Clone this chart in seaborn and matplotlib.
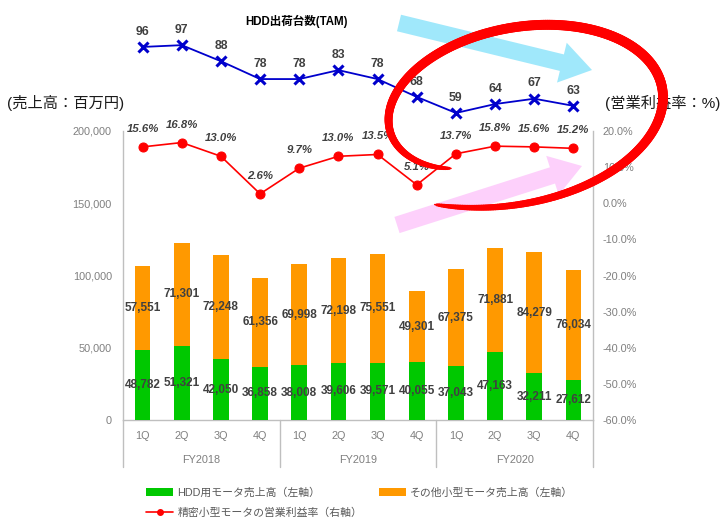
import numpy as np
import pandas as pd
import matplotlib
matplotlib.use("Agg")
import matplotlib.pyplot as plt
import seaborn as sns
from matplotlib.patches import FancyArrow, Patch
from matplotlib.lines import Line2D
from matplotlib.collections import LineCollection
from matplotlib.ticker import FuncFormatter, FixedLocator

# ---------------- data ----------------
fiscal_years = ["FY2018", "FY2019", "FY2020"]
quarters = ["1Q", "2Q", "3Q", "4Q"]
hdd_motor_sales = [48782, 51321, 42050, 36858, 38008, 39606, 39571, 40055, 37043, 47163, 32211, 27612]
other_motor_sales = [57551, 71301, 72248, 61356, 69998, 72198, 75551, 49301, 67375, 71881, 84279, 76034]
op_margin = [15.6, 16.8, 13.0, 2.6, 9.7, 13.0, 13.5, 5.1, 13.7, 15.8, 15.6, 15.2]
hdd_tam = [96, 97, 88, 78, 78, 83, 78, 68, 59, 64, 67, 63]
left_ticks = [0, 50000, 100000, 150000, 200000]
right_ticks = [-60, -50, -40, -30, -20, -10, 0, 10, 20]

legend_labels = ["HDD用モータ売上高（左軸）", "その他小型モータ売上高（左軸）", "精密小型モータの営業利益率（右軸）"]
title_tam = "HDD出荷台数(TAM)"
left_unit = "(売上高：百万円)"
right_unit = "(営業利益率：%)"

cats = [f"{fy} {q}" for fy in fiscal_years for q in quarters]
df = pd.DataFrame({
    "cat": cats,
    "hdd": hdd_motor_sales,
    "other": other_motor_sales,
    "margin": op_margin,
    "tam": hdd_tam,
})
df["total"] = df["hdd"] + df["other"]
df["pos"] = np.arange(len(df))

# ---------------- style ----------------
sns.set_style("white")
plt.rcParams["font.family"] = ["Liberation Sans", "Noto Sans CJK JP", "DejaVu Sans"]
BOLD_FAM = ["Liberation Sans", "Noto Sans CJK JP"]

GREEN = "#00c800"
ORANGE = "#ff9900"
RED = "#ff0000"
BLUE = "#0000cc"
GRAY_TXT = "#7f7f7f"
LINE_GRAY = "#bfbfbf"
LBL = "#404040"

W, H = 725, 519
fig = plt.figure(figsize=(W / 100, H / 100), dpi=100)

L, R, T, B = 123, 593, 131, 420
ax = fig.add_axes([L / W, 1 - B / H, (R - L) / W, (B - T) / H])

sns.barplot(data=df, x="cat", y="total", color=ORANGE, width=0.40, ax=ax,
            saturation=1, edgecolor="none", zorder=2)
sns.barplot(data=df, x="cat", y="hdd", color=GREEN, width=0.40, ax=ax,
            saturation=1, edgecolor="none", zorder=3)
ax.set_xlim(-0.5, len(df) - 0.5)
ax.set_ylim(0, 200000)
ax.set_xlabel("")
ax.set_ylabel("")
ax.yaxis.set_major_locator(FixedLocator(left_ticks))
ax.yaxis.set_major_formatter(FuncFormatter(lambda v, p: f"{int(v):,}"))
ax.set_xticks(df["pos"])
ax.set_xticklabels(quarters * len(fiscal_years))
ax.tick_params(axis="y", length=0, pad=8, labelsize=7.8, labelcolor=GRAY_TXT)
ax.tick_params(axis="x", length=0, pad=8, labelsize=7.8, labelcolor=GRAY_TXT)
for s in ["top", "right"]:
    ax.spines[s].set_visible(False)
for s in ["left", "bottom"]:
    ax.spines[s].set_color(LINE_GRAY)
    ax.spines[s].set_linewidth(1.0)

# group separators and FY labels
xt = ax.get_xaxis_transform()
sep_depth = -(467 - B) / (B - T)
for xs in [-0.5, 3.5, 7.5, 11.5]:
    ax.plot([xs, xs], [0, sep_depth], transform=xt, color=LINE_GRAY, lw=1.0, clip_on=False)
for i, fy in enumerate(fiscal_years):
    ax.text(i * 4 + 1.5, -(460 - B) / (B - T), fy, transform=xt, ha="center", va="center",
            fontsize=7.8, color=GRAY_TXT)

# bar value labels
for _, r in df.iterrows():
    ax.text(r["pos"], r["hdd"] / 2, f"{r['hdd']:,}", ha="center", va="center",
            fontsize=8.5, fontweight="bold", color=LBL, zorder=5, family=BOLD_FAM)
    ax.text(r["pos"], r["hdd"] + r["other"] / 2, f"{r['other']:,}", ha="center", va="center",
            fontsize=8.5, fontweight="bold", color=LBL, zorder=5, family=BOLD_FAM)

# right axis: margin line
ax2 = ax.twinx()
sns.lineplot(data=df, x="pos", y="margin", ax=ax2, color=RED, lw=1.2, marker="o",
             markersize=6.5, markeredgecolor=RED, zorder=6)
ax2.set_ylim(-60, 20)
ax2.set_xlim(-0.5, len(df) - 0.5)
ax2.set_ylabel("")
ax2.yaxis.set_major_locator(FixedLocator(right_ticks))
ax2.yaxis.set_major_formatter(FuncFormatter(lambda v, p: f"{v:.1f}%"))
ax2.tick_params(axis="y", length=0, pad=7, labelsize=7.8, labelcolor=GRAY_TXT)
for s in ["top", "left", "bottom"]:
    ax2.spines[s].set_visible(False)
ax2.spines["right"].set_color(LINE_GRAY)
ax2.spines["right"].set_linewidth(1.0)
for _, r in df.iterrows():
    ax2.annotate(f"{r['margin']:.1f}%", (r["pos"], r["margin"]), xytext=(0, 13),
                 textcoords="offset points", ha="center", va="center", fontsize=8.2,
                 fontweight="bold", fontstyle="italic", color=LBL, family=BOLD_FAM)

# TAM line on top axes
ax3 = fig.add_axes([L / W, 1 - T / H, (R - L) / W, T / H])
sns.lineplot(data=df, x="pos", y="tam", ax=ax3, color=BLUE, lw=1.3, marker="x",
             markersize=7.5, markeredgewidth=2.2, markeredgecolor=BLUE)
ax3.set_xlim(-0.5, len(df) - 0.5)
ax3.set_ylim(48.9, 122.3)
ax3.axis("off")
for _, r in df.iterrows():
    ax3.annotate(f"{r['tam']}", (r["pos"], r["tam"]), xytext=(0, 11), textcoords="offset points",
                 ha="center", va="center", fontsize=8.8, fontweight="bold", color=LBL, family=BOLD_FAM)

# texts
fig.text(296 / W, 1 - 21 / H, title_tam, ha="center", va="center", fontsize=8.3,
         fontweight="bold", color="#000000", family=BOLD_FAM)
fig.text(7 / W, 1 - 103 / H, left_unit, ha="left", va="center", fontsize=11, color="#1a1a1a")
fig.text(605 / W, 1 - 103 / H, right_unit, ha="left", va="center", fontsize=11, color="#1a1a1a")

# legend
handles = [
    Patch(facecolor=GREEN, edgecolor="none"),
    Line2D([0], [0], color=RED, lw=1.2, marker="o", markersize=4),
    Patch(facecolor=ORANGE, edgecolor="none"),
]
labels = [legend_labels[0], legend_labels[2], legend_labels[1]]
fig.legend(handles, labels, ncol=2, loc="upper left", bbox_to_anchor=(146 / W, 1 - 487 / H),
           frameon=False, fontsize=7.8, handlelength=2.5, handleheight=0.8, handletextpad=0.4,
           columnspacing=1.5, labelspacing=0.9, borderpad=0, borderaxespad=0,
           labelcolor="#595959")

# overlay annotations (arrows and hand-drawn ring)
ov = fig.add_axes([0, 0, 1, 1], zorder=10)
ov.set_xlim(0, W)
ov.set_ylim(H, 0)
ov.axis("off")
ov.patch.set_alpha(0)

def arrow(p0, p1, color):
    dx, dy = p1[0] - p0[0], p1[1] - p0[1]
    ov.add_patch(FancyArrow(p0[0], p0[1], dx, dy, width=17, head_width=41, head_length=31,
                            length_includes_head=True, color=color, ec="none"))

arrow((399, 23), (592, 70), "#a0e8fb")
arrow((397, 225), (582, 166), "#fdd0fb")

t = np.deg2rad(np.linspace(138, 489, 400))
tdeg = np.rad2deg(t)
s = 1 - 0.24 * np.exp(-(tdeg - 138) / 30) + 0.15 * np.exp(-(489 - tdeg) / 45)
cx, cy, a, b = 522, 112, 141, 85
phi = np.deg2rad(10)
u = np.array([np.cos(phi), -np.sin(phi)])
v = np.array([np.sin(phi), np.cos(phi)])
px = cx + s * (a * np.cos(t) * u[0] + b * np.sin(t) * v[0])
py = cy + s * (a * np.cos(t) * u[1] + b * np.sin(t) * v[1])
pts = np.column_stack([px, py]).reshape(-1, 1, 2)
segs = np.concatenate([pts[:-1], pts[1:]], axis=1)
frac = np.linspace(0, 1, len(segs))
lw_px = 1.5 + 8.5 * np.clip(np.sin(np.pi * frac) ** 0.35, 0, 1)
ov.add_collection(LineCollection(segs, colors=RED, linewidths=lw_px * 0.72, capstyle="round"))

fig.savefig("out.png", dpi=100)
